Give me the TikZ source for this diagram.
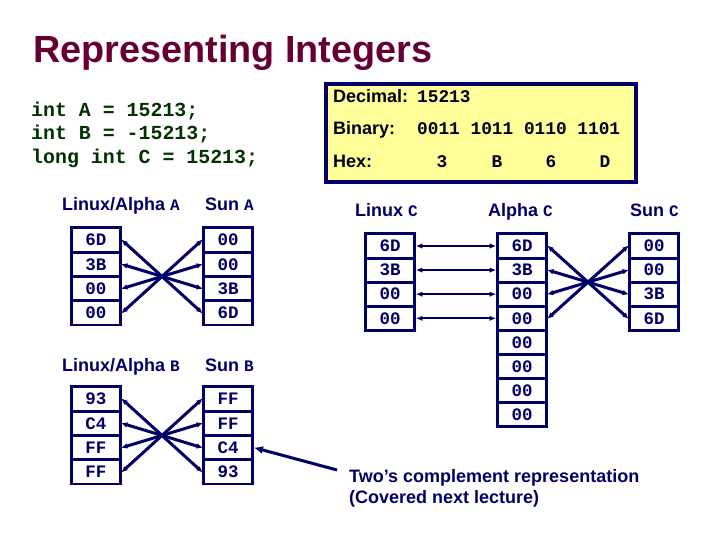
\documentclass[tikz,border=0pt]{standalone}
\usepackage{fontspec}
\setmainfont{Liberation Sans}
\setmonofont{Liberation Mono}
\usepackage{tikz}
\usetikzlibrary{arrows.meta}
\definecolor{titlered}{HTML}{660033}
\definecolor{codegreen}{HTML}{003300}
\definecolor{navy}{HTML}{000066}
\definecolor{boxyellow}{HTML}{FFFF99}
\tikzset{
    cell/.style={draw=navy, line width=2.8pt, minimum width=49pt, minimum height=24.3pt,
        inner sep=0pt, text=navy, font=\fontsize{17.5}{19}\selectfont\ttfamily\bfseries},
    lbl/.style={anchor=base west, inner sep=0pt, text=navy, font=\fontsize{18}{21}\selectfont\bfseries},
    swap/.style={<->, navy, line width=3pt, shorten <=-1pt, shorten >=-1pt},
    same/.style={<->, navy, line width=2.2pt},
    >={Latex[length=6.5pt,width=5.5pt]}
}
\newcommand{\vname}[1]{{\ttfamily\fontsize{16}{18}\selectfont #1}}
\begin{document}
\begin{tikzpicture}[x=1pt, y=-1pt]
    \useasboundingbox (0,0) rectangle (720,540);

    % Title
    \node[anchor=base west, inner sep=0pt, text=titlered, font=\fontsize{37.8}{42}\selectfont\bfseries]
        (title) at (33,63) {Representing Integers};

    % Declarations
    \foreach \n/\y/\txt in {da/117/{int A = 15213;}, db/140/{int B = -15213;}, dc/164/{long int C = 15213;}}
        \node[anchor=base west, inner sep=0pt, text=codegreen, font=\fontsize{19.9}{22}\selectfont\ttfamily\bfseries]
            (\n) at (31,\y) {\txt};

    % Yellow box with the value
    \filldraw[fill=boxyellow, draw=navy, line width=3.5pt] (326,84) rectangle (636,182);
    \node[lbl, text=black!80!navy] (dec) at (333,103) {Decimal:};
    \node[lbl, text=black!80!navy] (bin) at (333,135) {Binary:};
    \node[lbl, text=black!80!navy] (hex) at (333,168) {Hex:};
    \node[anchor=base west, inner sep=0pt, text=black!80!navy, font=\fontsize{17.8}{20}\selectfont\ttfamily\bfseries]
        (decv) at (417,103) {15213};
    \node[anchor=base west, inner sep=0pt, text=black!80!navy, font=\fontsize{17.8}{20}\selectfont\ttfamily\bfseries]
        (binv) at (417,135) {0011 1011 0110 1101};
    \foreach \x/\h in {442/3, 497/B, 551/6, 605/D}
        \node[anchor=base, inner sep=0pt, text=black!80!navy, font=\fontsize{17.8}{20}\selectfont\ttfamily\bfseries]
            (hex\h) at (\x,168) {\h};

    % Labels
    \node[lbl] (lalab) at (62,211) {Linux/Alpha \vname{A}};
    \node[lbl] (salab) at (205,211) {Sun \vname{A}};
    \node[lbl] (lblab) at (62,371) {Linux/Alpha \vname{B}};
    \node[lbl] (sblab) at (205,371) {Sun \vname{B}};
    \node[lbl] (lclab) at (355,217) {Linux \vname{C}};
    \node[lbl] (aclab) at (488,217) {Alpha \vname{C}};
    \node[lbl] (sclab) at (630,217) {Sun \vname{C}};

    % int A
    \foreach \i/\v in {0/6D,1/3B,2/00,3/00}
        \node[cell] (la\i) at (96,{240+24.3*\i}) {\v};
    \foreach \i/\v in {0/00,1/00,2/3B,3/6D}
        \node[cell] (sa\i) at (228,{240+24.3*\i}) {\v};
    \foreach \i/\j in {0/3,1/2,2/1,3/0}
        \draw[swap] (la\i.east) -- (sa\j.west);

    % int B
    \foreach \i/\v in {0/93,1/C4,2/FF,3/FF}
        \node[cell] (lb\i) at (96,{399+24.3*\i}) {\v};
    \foreach \i/\v in {0/FF,1/FF,2/C4,3/93}
        \node[cell] (sb\i) at (228,{399+24.3*\i}) {\v};
    \foreach \i/\j in {0/3,1/2,2/1,3/0}
        \draw[swap] (lb\i.east) -- (sb\j.west);

    % long int C
    \foreach \i/\v in {0/6D,1/3B,2/00,3/00}
        \node[cell] (lc\i) at (390,{246+24.1*\i}) {\v};
    \foreach \i/\v in {0/6D,1/3B,2/00,3/00,4/00,5/00,6/00,7/00}
        \node[cell] (ac\i) at (522,{246+24.1*\i}) {\v};
    \foreach \i/\v in {0/00,1/00,2/3B,3/6D}
        \node[cell] (sc\i) at (654,{246+24.1*\i}) {\v};
    \foreach \i in {0,1,2,3}
        \draw[same] (lc\i.east) -- (ac\i.west);
    \foreach \i/\j in {0/3,1/2,2/1,3/0}
        \draw[swap] (ac\i.east) -- (sc\j.west);

    % Note
    \node[lbl] (note1) at (349,482) {Two’s complement representation};
    \node[lbl] (note2) at (349,503) {(Covered next lecture)};
    \coordinate (tail) at (337,470);
    \draw[->, navy, line width=3pt, >={Latex[length=9pt,width=8pt]}] (tail) -- (sb2.east);
\end{tikzpicture}
\end{document}
